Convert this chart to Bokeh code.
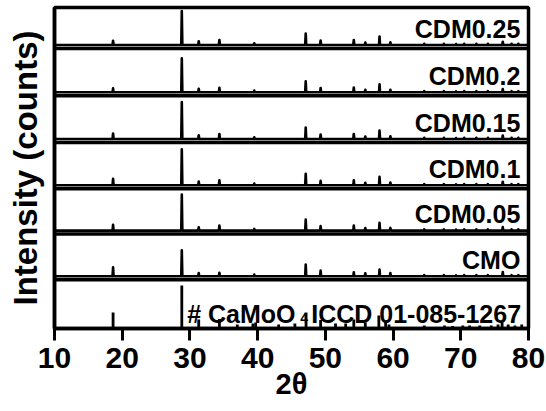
import numpy as np
from bokeh.plotting import figure
from bokeh.models import Range1d, FixedTicker, Span
from bokeh.embed import file_html
from bokeh.resources import INLINE
from bokeh.core.properties import value

# ---------------- data ----------------
x_ticks = [10, 20, 30, 40, 50, 60, 70, 80]

# stacked panels (bottom -> top); first panel is the reference pattern
panel_labels = ["CMO", "CDM0.05", "CDM0.1", "CDM0.15", "CDM0.2", "CDM0.25"]
panel_bottom = [0, 48.7, 94.4, 139.7, 186.0, 232.7, 280.0]
panel_top = 321.0

# measured peak positions (2theta) and heights (intensity units) for each sample
peak_pos = [18.65, 28.8, 31.3, 34.35, 39.5, 47.1, 49.3, 54.2, 55.9, 58.0, 59.6,
            64.6, 67.5, 69.3, 70.5, 72.3, 74.0, 76.2, 77.5, 78.5]
h_CMO     = [9.0, 26.0, 3.3, 3.5, 1.7, 11.7, 5.7, 4.0, 3.0, 6.8, 3.3,
             1.2, 1.2, 1.0, 1.2, 1.2, 1.2, 4.3, 1.2, 1.2]
h_CDM005  = [5.7, 36.0, 3.3, 5.0, 1.7, 11.0, 4.5, 5.0, 2.5, 7.7, 2.7,
             1.2, 1.2, 1.0, 1.2, 1.2, 1.2, 3.5, 1.2, 1.2]
h_CDM01   = [6.5, 36.0, 3.7, 5.0, 1.7, 11.5, 4.5, 5.0, 2.5, 8.5, 2.7,
             1.2, 1.2, 1.0, 1.2, 1.2, 1.2, 3.5, 1.2, 1.2]
h_CDM015  = [5.5, 37.0, 3.7, 5.0, 1.7, 11.5, 4.5, 5.0, 2.5, 8.5, 2.7,
             1.2, 1.2, 1.0, 1.2, 1.2, 1.2, 3.5, 1.2, 1.2]
h_CDM02   = [4.0, 34.0, 3.5, 4.5, 1.7, 11.0, 4.3, 4.8, 2.5, 8.0, 2.5,
             1.2, 1.2, 1.0, 1.2, 1.2, 1.2, 3.3, 1.2, 1.2]
h_CDM025  = [4.3, 34.0, 3.7, 5.0, 1.7, 11.5, 4.5, 5.0, 2.5, 8.5, 2.7,
             1.2, 1.2, 1.0, 1.2, 1.2, 1.2, 3.3, 1.2, 1.2]
sample_heights = [h_CMO, h_CDM005, h_CDM01, h_CDM015, h_CDM02, h_CDM025]

# reference pattern (ICCD 01-085-1267) stick positions and heights
ref_pos = [18.65, 28.8, 31.3, 34.35, 37.0, 39.3, 39.7, 43.1, 45.5, 47.15, 49.3,
           51.5, 53.0, 54.2, 55.9, 57.9, 58.9, 59.4, 64.6, 67.6, 68.8, 70.3,
           71.3, 72.8, 74.5, 75.5, 76.1, 77.0, 78.0, 79.0]
ref_h = [16.0, 43.0, 9.0, 9.5, 4.0, 5.0, 6.0, 4.0, 5.0, 16.0, 8.5,
         5.0, 5.0, 9.0, 6.0, 13.0, 8.0, 4.0, 3.0, 3.0, 2.5, 3.0,
         3.0, 3.0, 3.0, 4.0, 6.0, 4.0, 3.0, 4.0]
ref_label_main = "# CaMoO"
ref_label_sub = "4"
ref_label_tail = "ICCD 01-085-1267"
x_title = "2θ"
y_title = "Intensity (counts)"

# ---------------- figure ----------------
FONT = value("Liberation Sans")

p = figure(width=546, height=411, output_backend="svg", toolbar_location=None,
           x_range=Range1d(10, 80), y_range=Range1d(0, panel_top),
           min_border_left=54, min_border_right=18, min_border_top=7,
           min_border_bottom=83)
p.grid.visible = False
p.background_fill_color = "white"
p.border_fill_color = "white"
p.outline_line_color = "black"
p.outline_line_width = 3.5

# separators between panels
for yb in panel_bottom[1:]:
    p.add_layout(Span(location=yb, dimension="width", line_color="black",
                      line_width=3.5))

# sample patterns
half_w = 0.08
for i, heights in enumerate(sample_heights):
    base = panel_bottom[i + 1] + 3.5
    xs, ys = [10.0], [base]
    for pos, h in zip(peak_pos, heights):
        xs += [pos - half_w, pos, pos + half_w]
        ys += [base, base + h, base]
    xs.append(80.0)
    ys.append(base)
    p.line(xs, ys, line_color="black", line_width=2.6, line_join="round")

# reference sticks
p.segment(x0=ref_pos, y0=[0] * len(ref_pos), x1=ref_pos, y1=ref_h,
          line_color="black", line_width=2.8)

# panel labels
p.text(x=[78.8] * len(panel_labels), y=[b + 20 for b in panel_bottom[1:]],
       text=panel_labels, text_align="right", text_baseline="alphabetic",
       text_font=FONT, text_font_style="bold", text_font_size="25px",
       text_color="black")

# reference label with subscript
p.text(x=[29.6], y=[15], text=[ref_label_main], text_align="left",
       text_baseline="alphabetic", text_font=FONT, text_font_style="bold",
       text_font_size="25px", text_color="black")
p.text(x=[29.6], y=[11], text=[ref_label_sub], text_align="left",
       text_baseline="alphabetic", text_font=FONT, text_font_style="bold",
       text_font_size="14px", text_color="black", x_offset=113)
p.text(x=[29.6], y=[15], text=[ref_label_tail], text_align="left",
       text_baseline="alphabetic", text_font=FONT, text_font_style="bold",
       text_font_size="25px", text_color="black", x_offset=124)

# axes
xa = p.xaxis[0]
xa.ticker = FixedTicker(ticks=x_ticks)
xa.axis_line_width = 3.5
xa.major_tick_line_width = 3
xa.major_tick_out = 12
xa.major_tick_in = 0
xa.minor_tick_line_color = None
xa.major_label_standoff = 7
xa.major_label_text_font = "Liberation Sans"
xa.major_label_text_font_style = "bold"
xa.major_label_text_font_size = "30px"
xa.major_label_text_color = "black"
xa.axis_label = x_title
xa.axis_label_text_font = "Liberation Sans"
xa.axis_label_text_font_style = "bold"
xa.axis_label_text_font_size = "29px"
xa.axis_label_text_color = "black"
xa.axis_label_standoff = -3

ya = p.yaxis[0]
ya.ticker = FixedTicker(ticks=[])
ya.axis_line_width = 3.5
ya.major_tick_out = 0
ya.major_tick_in = 0
ya.minor_tick_line_color = None
ya.major_label_standoff = 0
ya.axis_label = y_title
ya.axis_label_text_font = "Liberation Sans"
ya.axis_label_text_font_style = "bold"
ya.axis_label_text_font_size = "33px"
ya.axis_label_text_color = "black"
ya.axis_label_standoff = 11

open("out.html", "w").write(file_html(p, INLINE))
